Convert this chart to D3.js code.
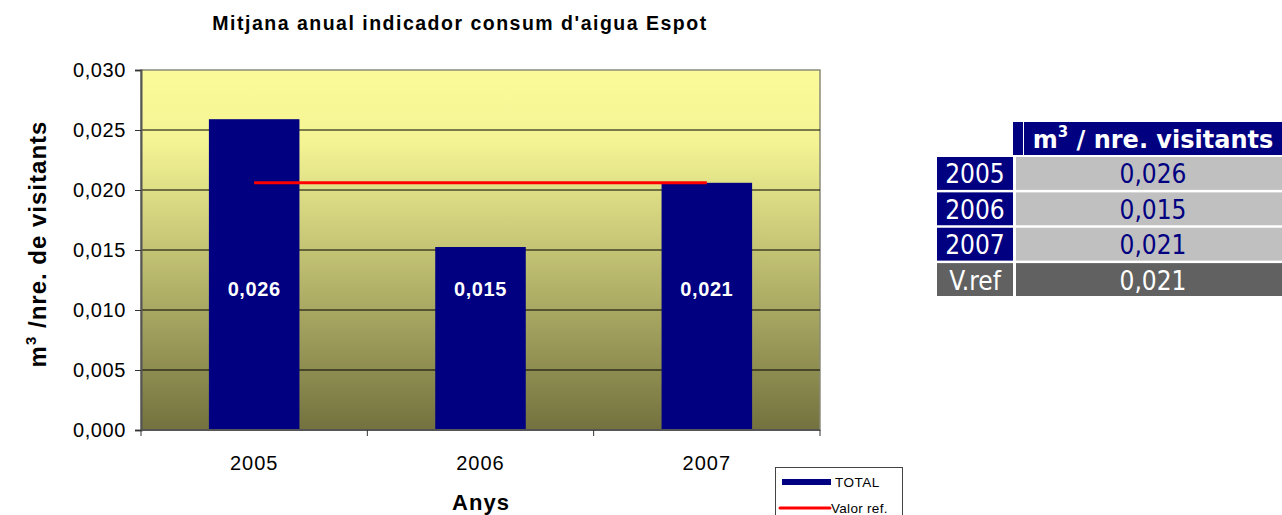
<!DOCTYPE html>
<html>
<head>
<meta charset="utf-8">
<script src="https://cdn.jsdelivr.net/npm/d3@7"></script>
<style>
  body { margin: 0; background: #fff; }
  svg { display: block; }
</style>
</head>
<body>
<svg id="chart" width="1282" height="515"></svg>
<script>
// Data
const years = ["2005", "2006", "2007"];
const totals = [0.0259, 0.01525, 0.0206];
const barLabels = ["0,026", "0,015", "0,021"];
const refValue = 0.0206;
const yTicks = [0, 0.005, 0.010, 0.015, 0.020, 0.025, 0.030];
const tableRows = ["2005", "2006", "2007", "V.ref"];
const tableValues = ["0,026", "0,015", "0,021", "0,021"];

const width = 1282, height = 515;
const svg = d3.select("#chart");
const fontFamily = "'Liberation Sans', Arial, sans-serif";
const tableFont = "'DejaVu Sans Condensed', 'DejaVu Sans', Verdana, sans-serif";
const headerFont = "'DejaVu Sans', Verdana, sans-serif";

// Plot area
const plot = { left: 141, right: 820, top: 70, bottom: 430 };

const x = d3.scaleBand()
  .domain(years)
  .range([plot.left, plot.right])
  .paddingInner(0.6)
  .paddingOuter(0.3);

const y = d3.scaleLinear()
  .domain([0, 0.030])
  .range([plot.bottom, plot.top]);

// Gradient background
const defs = svg.append("defs");
const grad = defs.append("linearGradient")
  .attr("id", "bg")
  .attr("x1", 0).attr("y1", 0)
  .attr("x2", 0).attr("y2", 1);
grad.append("stop").attr("offset", "0%").attr("stop-color", "#fbfb9a");
grad.append("stop").attr("offset", "20%").attr("stop-color", "#f4f494");
grad.append("stop").attr("offset", "100%").attr("stop-color", "#73723f");

svg.append("rect")
  .attr("x", plot.left)
  .attr("y", plot.top)
  .attr("width", plot.right - plot.left)
  .attr("height", plot.bottom - plot.top)
  .attr("fill", "url(#bg)")
  .attr("stroke", "#8a8a7a")
  .attr("stroke-width", 1.5);

// Gridlines
svg.append("g")
  .selectAll("line")
  .data(yTicks.slice(1, -1))
  .join("line")
  .attr("x1", plot.left)
  .attr("x2", plot.right)
  .attr("y1", d => y(d))
  .attr("y2", d => y(d))
  .attr("stroke", "#000")
  .attr("stroke-width", 1);

// Bars
svg.append("g")
  .selectAll("rect")
  .data(totals)
  .join("rect")
  .attr("x", (d, i) => x(years[i]))
  .attr("y", d => y(d))
  .attr("width", x.bandwidth())
  .attr("height", d => y(0) - y(d))
  .attr("fill", "#000080");

// Bar value labels (all at the same height, as in the original)
svg.append("g")
  .selectAll("text")
  .data(barLabels)
  .join("text")
  .attr("x", (d, i) => x(years[i]) + x.bandwidth() / 2)
  .attr("y", y(0.0118) + 8)
  .attr("text-anchor", "middle")
  .attr("fill", "#fff")
  .attr("font-size", 20)
  .attr("font-weight", "bold")
  .attr("letter-spacing", 0.6)
  .style("font-family", fontFamily)
  .text(d => d);

// Reference line
svg.append("line")
  .attr("x1", x(years[0]) + x.bandwidth() / 2)
  .attr("x2", x(years[years.length - 1]) + x.bandwidth() / 2)
  .attr("y1", y(refValue))
  .attr("y2", y(refValue))
  .attr("stroke", "#ff0000")
  .attr("stroke-width", 3);

// Y axis
const yAxis = svg.append("g")
  .attr("transform", `translate(${plot.left},0)`)
  .call(d3.axisLeft(y)
    .tickValues(yTicks)
    .tickSize(6)
    .tickFormat(d => d3.format(".3f")(d).replace(".", ",")));
yAxis.select(".domain").attr("stroke", "#555").attr("stroke-width", 2);
yAxis.selectAll(".tick line").attr("stroke", "#333");
yAxis.selectAll("text")
  .attr("x", -15)
  .attr("font-size", 20)
  .attr("letter-spacing", 0.6)
  .attr("fill", "#000")
  .style("font-family", fontFamily);

// X axis
svg.append("line")
  .attr("x1", plot.left).attr("x2", plot.right)
  .attr("y1", plot.bottom).attr("y2", plot.bottom)
  .attr("stroke", "#555").attr("stroke-width", 2);

const boundaries = d3.range(years.length + 1).map(i => plot.left + i * (plot.right - plot.left) / years.length);
svg.append("g")
  .selectAll("line")
  .data(boundaries)
  .join("line")
  .attr("x1", d => d).attr("x2", d => d)
  .attr("y1", plot.bottom).attr("y2", plot.bottom + 6)
  .attr("stroke", "#333");

svg.append("g")
  .selectAll("text")
  .data(years)
  .join("text")
  .attr("x", d => x(d) + x.bandwidth() / 2)
  .attr("y", 470)
  .attr("text-anchor", "middle")
  .attr("font-size", 20)
  .attr("letter-spacing", 1)
  .style("font-family", fontFamily)
  .text(d => d);

// Title
svg.append("text")
  .attr("x", 460)
  .attr("y", 30)
  .attr("text-anchor", "middle")
  .attr("font-size", 19.5)
  .attr("font-weight", "bold")
  .attr("letter-spacing", 1.5)
  .style("font-family", fontFamily)
  .text("Mitjana anual indicador consum d'aigua Espot");

// X axis title
svg.append("text")
  .attr("x", 481)
  .attr("y", 510)
  .attr("text-anchor", "middle")
  .attr("font-size", 22)
  .attr("font-weight", "bold")
  .attr("letter-spacing", 1)
  .style("font-family", fontFamily)
  .text("Anys");

// Y axis title
const yTitle = svg.append("text")
  .attr("transform", "translate(46,244) rotate(-90)")
  .attr("text-anchor", "middle")
  .attr("font-size", 24)
  .attr("font-weight", "bold")
  .attr("letter-spacing", 1)
  .style("font-family", fontFamily);
yTitle.append("tspan").text("m");
yTitle.append("tspan").attr("dy", -10).attr("font-size", 15).text("3");
yTitle.append("tspan").attr("dy", 10).text(" /nre. de visitants");

// Legend
const legend = svg.append("g").attr("transform", "translate(775,467)");
legend.append("rect")
  .attr("x", 0.5).attr("y", 0.5)
  .attr("width", 127).attr("height", 60)
  .attr("fill", "#fff")
  .attr("stroke", "#444");
legend.append("rect")
  .attr("x", 7).attr("y", 12)
  .attr("width", 49).attr("height", 6)
  .attr("fill", "#000080");
legend.append("text")
  .attr("x", 60).attr("y", 20)
  .attr("font-size", 13.5)
  .attr("letter-spacing", 0.5)
  .style("font-family", fontFamily)
  .text("TOTAL");
legend.append("line")
  .attr("x1", 5).attr("x2", 55)
  .attr("y1", 41).attr("y2", 41)
  .attr("stroke", "#ff0000")
  .attr("stroke-width", 3)
  .attr("stroke-linecap", "round");
legend.append("text")
  .attr("x", 56).attr("y", 46)
  .attr("font-size", 13.5)
  .attr("letter-spacing", 0.3)
  .style("font-family", fontFamily)
  .text("Valor ref.");

// Data table
const table = svg.append("g");
table.append("rect")
  .attr("x", 1013).attr("y", 122)
  .attr("width", 10).attr("height", 33)
  .attr("fill", "#000080");
table.append("rect")
  .attr("x", 1024).attr("y", 122)
  .attr("width", 258).attr("height", 33)
  .attr("fill", "#000080");
const header = table.append("text")
  .attr("x", 1153).attr("y", 148)
  .attr("text-anchor", "middle")
  .attr("fill", "#fff")
  .attr("font-size", 24)
  .attr("font-weight", "bold")
  .style("font-family", headerFont);
header.append("tspan").text("m");
header.append("tspan").attr("dy", -11).attr("font-size", 15).text("3");
header.append("tspan").attr("dy", 11).text(" / nre. visitants");

const rowY = d3.scaleBand()
  .domain(tableRows)
  .range([157, 296])
  .paddingInner(0.07);

const rows = table.selectAll(".row")
  .data(tableRows)
  .join("g")
  .attr("class", "row");
rows.append("rect")
  .attr("x", 937)
  .attr("y", d => rowY(d))
  .attr("width", 76)
  .attr("height", rowY.bandwidth())
  .attr("fill", d => d === "V.ref" ? "#616161" : "#000080");
rows.append("rect")
  .attr("x", 1016)
  .attr("y", d => rowY(d))
  .attr("width", 266)
  .attr("height", rowY.bandwidth())
  .attr("fill", d => d === "V.ref" ? "#616161" : "#c0c0c0");
rows.append("text")
  .attr("x", 975)
  .attr("y", d => rowY(d) + rowY.bandwidth() / 2 + 10)
  .attr("text-anchor", "middle")
  .attr("fill", "#fff")
  .attr("font-size", 26)
  .style("font-family", tableFont)
  .text(d => d);
rows.append("text")
  .attr("x", 1153)
  .attr("y", d => rowY(d) + rowY.bandwidth() / 2 + 10)
  .attr("text-anchor", "middle")
  .attr("fill", d => d === "V.ref" ? "#fff" : "#000080")
  .attr("font-size", 26)
  .style("font-family", tableFont)
  .text((d, i) => tableValues[i]);
</script>
</body>
</html>
